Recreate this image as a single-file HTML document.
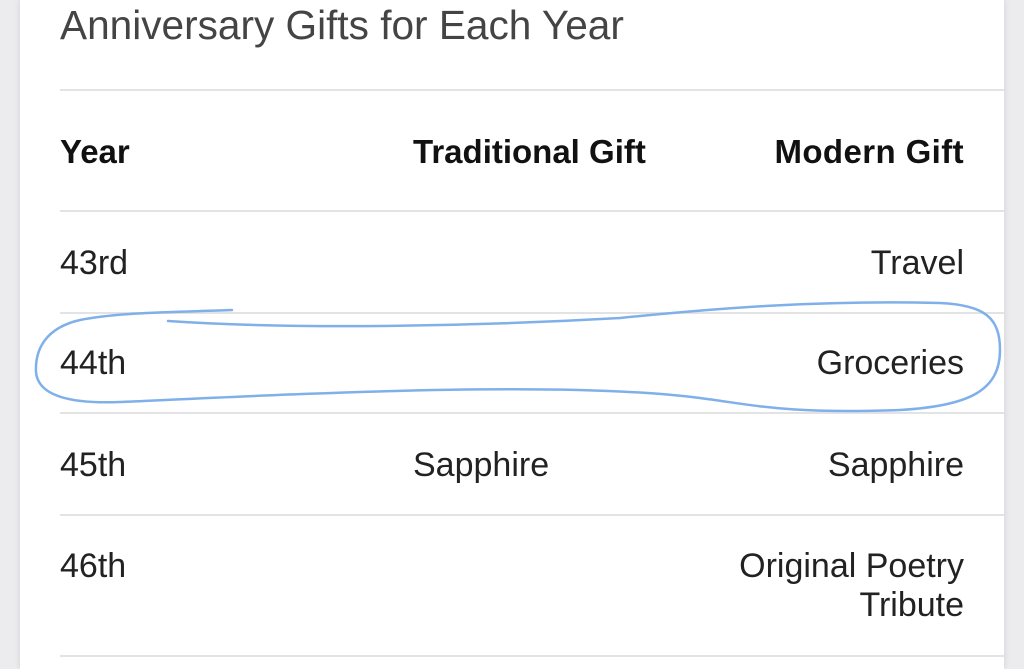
<!DOCTYPE html>
<html><head><meta charset="utf-8"><style>
html,body{margin:0;padding:0;width:1024px;height:669px;overflow:hidden;background:#ececef;font-family:"Liberation Sans",Arial,sans-serif;}
.card{position:absolute;left:20px;top:0;width:984px;height:669px;background:#fff;box-shadow:0 0 6px rgba(0,0,0,0.12);}
.t{position:absolute;white-space:nowrap;color:#222;font-size:34px;line-height:1;}
.b{font-weight:bold;color:#111;font-size:33px;}
.line{position:absolute;left:60px;right:20px;height:2px;background:#e3e3e6;}
</style></head><body>
<div class="card"></div>
<div class="t" style="left:60px;top:5px;font-size:40.6px;color:#444;">Anniversary Gifts for Each Year</div>
<div class="line" style="top:89px"></div>
<div class="t b" style="left:60px;top:135px;">Year</div>
<div class="t b" style="left:413px;top:135px;">Traditional Gift</div>
<div class="t b" style="right:60px;top:135px;letter-spacing:0.4px;">Modern Gift</div>
<div class="line" style="top:210px"></div>
<div class="t" style="left:60px;top:246px;">43rd</div>
<div class="t" style="right:60px;top:246px;">Travel</div>
<div class="line" style="top:312px"></div>
<div class="t" style="left:60px;top:346px;">44th</div>
<div class="t" style="right:60px;top:346px;">Groceries</div>
<div class="line" style="top:412px"></div>
<div class="t" style="left:60px;top:448px;">45th</div>
<div class="t" style="left:413px;top:448px;">Sapphire</div>
<div class="t" style="right:60px;top:448px;">Sapphire</div>
<div class="line" style="top:514px"></div>
<div class="t" style="left:60px;top:549px;">46th</div>
<div class="t" style="right:60px;top:549px;">Original Poetry</div>
<div class="t" style="right:60px;top:588px;">Tribute</div>
<div class="line" style="top:655px"></div>
<svg width="1024" height="669" style="position:absolute;left:0;top:0" fill="none" stroke="#7fb0ea" stroke-width="2.5" stroke-linecap="round">
<path d="M232,310 C180,312 120,312 80,320 C45,328 35,350 36,372 C38,396 70,404 120,402 C300,394 560,380 700,398 C760,406 790,414 900,410 C970,406 1000,390 1000,350 C1000,318 985,305 940,303 C820,300 720,308 620,318 C480,326 300,330 168,321"/>
</svg>
</body></html>
